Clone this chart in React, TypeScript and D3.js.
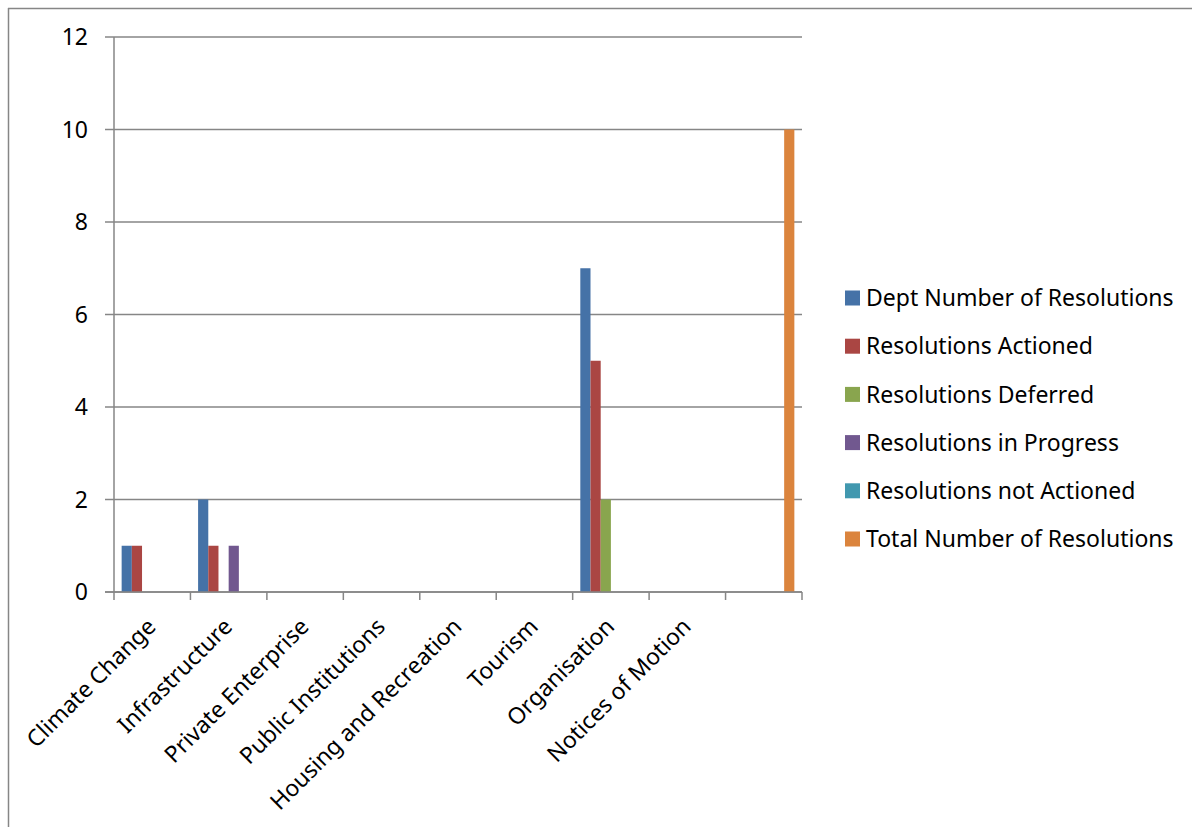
import React from 'react';
import * as d3 from 'd3';

const categories = [
  'Climate Change',
  'Infrastructure',
  'Private Enterprise',
  'Public Institutions',
  'Housing and Recreation',
  'Tourism',
  'Organisation',
  'Notices of Motion',
  '',
];

const seriesNames = [
  'Dept Number of Resolutions',
  'Resolutions Actioned',
  'Resolutions Deferred',
  'Resolutions in Progress',
  'Resolutions not Actioned',
  'Total Number of Resolutions',
];

const seriesColors = ['#4572A7', '#AA4643', '#89A54E', '#71588F', '#4198AF', '#DB843D'];

// values per series, one per category
const deptNumber = [1, 2, 0, 0, 0, 0, 7, 0, 0];
const actioned = [1, 1, 0, 0, 0, 0, 5, 0, 0];
const deferred = [0, 0, 0, 0, 0, 0, 2, 0, 0];
const inProgress = [0, 1, 0, 0, 0, 0, 0, 0, 0];
const notActioned = [0, 0, 0, 0, 0, 0, 0, 0, 0];
const totalNumber = [0, 0, 0, 0, 0, 0, 0, 0, 10];

const seriesValues = [deptNumber, actioned, deferred, inProgress, notActioned, totalNumber];

const yTicks = [0, 2, 4, 6, 8, 10, 12];

const W = 1192;
const H = 827;
const left = 114;
const right = 802;
const top = 37;
const bottom = 592;
const gridColor = '#868686';
const font = '"Noto Sans", sans-serif';

const App: React.FC = () => {
  const x = d3.scaleBand<string>()
    .domain(categories.map((c, i) => `${i}`))
    .range([left, right])
    .padding(0);
  const bw = x.bandwidth();
  const xInner = d3.scaleBand<string>()
    .domain(seriesNames)
    .range([bw * 0.1, bw * 0.9])
    .padding(0);
  const y = d3.scaleLinear().domain([0, 12]).range([bottom, top]);

  return (
    <div style={{ position: 'absolute', left: 0, top: 0 }}>
      <svg width={W} height={H} style={{ display: 'block', fontFamily: font }}>
        <rect x={0} y={0} width={W} height={H} fill="#fff" />
        {/* outer frame */}
        <line x1={8.5} y1={8} x2={8.5} y2={H} stroke={gridColor} strokeWidth={1.5} />
        <line x1={8} y1={8.5} x2={W} y2={8.5} stroke={gridColor} strokeWidth={1.5} />

        {/* gridlines + y ticks */}
        {yTicks.map(t => (
          <g key={t}>
            <line x1={left - 9} x2={right} y1={y(t)} y2={y(t)} stroke={gridColor} strokeWidth={1.5} />
            <text x={88} y={y(t)} dy="0.36em" textAnchor="end" fontSize={23} fill="#000">{t}</text>
          </g>
        ))}
        {/* y axis */}
        <line x1={left} x2={left} y1={top} y2={bottom} stroke={gridColor} strokeWidth={1.5} />

        {/* bars */}
        {categories.map((c, ci) => (
          <g key={ci} transform={`translate(${x(`${ci}`)},0)`}>
            {seriesNames.map((s, si) => {
              const v = seriesValues[si][ci];
              if (!v) return null;
              return (
                <rect
                  key={s}
                  x={xInner(s)}
                  y={y(v)}
                  width={xInner.bandwidth()}
                  height={y(0) - y(v)}
                  fill={seriesColors[si]}
                />
              );
            })}
          </g>
        ))}

        {/* x axis */}
        <line x1={left - 9} x2={right} y1={bottom} y2={bottom} stroke={gridColor} strokeWidth={1.5} />
        {d3.range(categories.length + 1).map(i => {
          const xp = left + i * bw;
          return <line key={i} x1={xp} x2={xp} y1={bottom} y2={bottom + 8} stroke={gridColor} strokeWidth={1.5} />;
        })}
        {categories.map((c, ci) => {
          const cx = (x(`${ci}`) as number) + bw / 2;
          return (
            <text
              key={ci}
              transform={`translate(${cx + 5},${bottom + 36}) rotate(-45)`}
              textAnchor="end"
              fontSize={23}
              fill="#000"
            >
              {c}
            </text>
          );
        })}

        {/* legend */}
        {seriesNames.map((s, si) => {
          const ly = 298 + si * 48.2;
          return (
            <g key={s}>
              <rect x={845} y={ly - 7.5} width={15} height={15} fill={seriesColors[si]} />
              <text x={866} y={ly} dy="0.36em" fontSize={23} fill="#000">{s}</text>
            </g>
          );
        })}
      </svg>
    </div>
  );
};

export default App;
